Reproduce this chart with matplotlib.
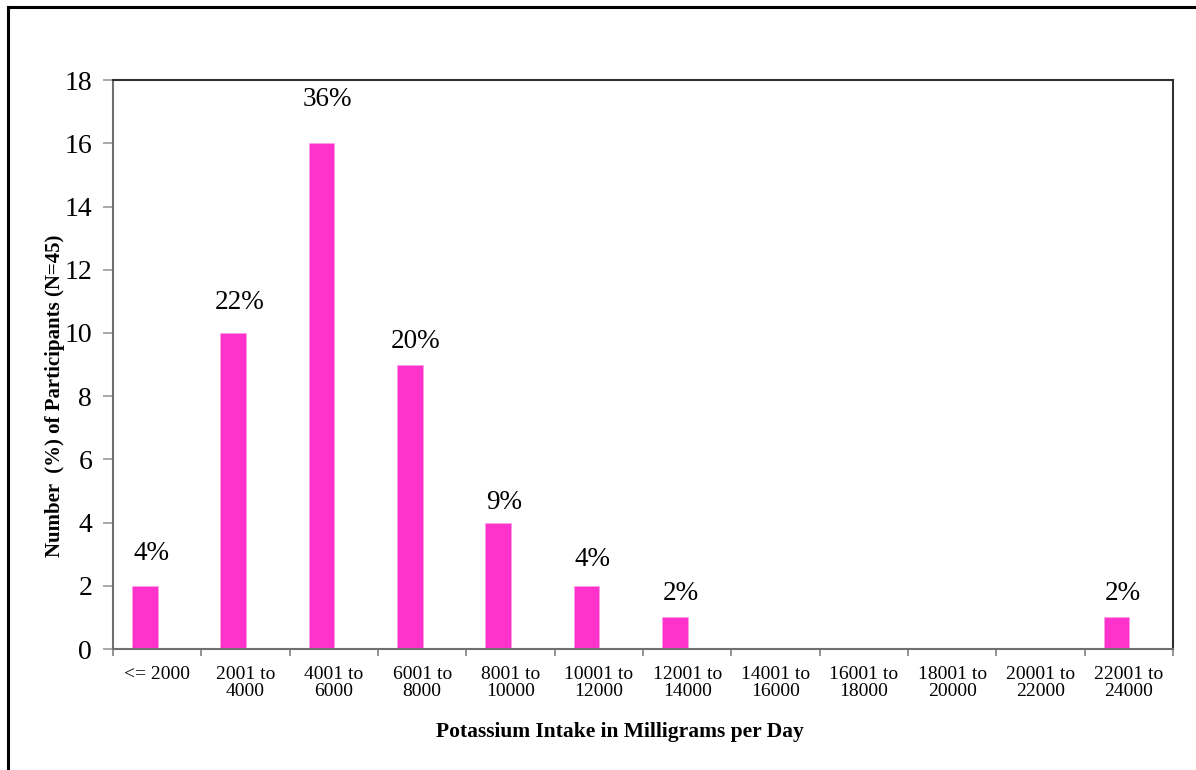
import numpy as np
import matplotlib.pyplot as plt
from matplotlib.lines import Line2D

# potassium intake bins and participant counts
categories = ['<= 2000', '2001 to\n4000', '4001 to\n6000', '6001 to\n8000',
              '8001 to\n10000', '10001 to\n12000', '12001 to\n14000',
              '14001 to\n16000', '16001 to\n18000', '18001 to\n20000',
              '20001 to\n22000', '22001 to\n24000']
counts = [2, 10, 16, 9, 4, 2, 1, 0, 0, 0, 0, 1]
pct_labels = ['4%', '22%', '36%', '20%', '9%', '4%', '2%', '', '', '', '', '2%']
# how far above each bar its label sits (data units)
label_lift = [1.04, 0.98, 1.37, 0.72, 0.65, 0.82, 0.77, 0, 0, 0, 0, 0.77]

plt.rcParams['font.family'] = ['Liberation Serif', 'DejaVu Serif']

fig = plt.figure(figsize=(11.96, 7.7), dpi=100)
ax = fig.add_axes([0.0945, 0.157, 0.8863, 0.739])

x = np.arange(len(categories))
ax.bar(x - 0.14, counts, width=0.29, color='#ff33cc', edgecolor='#ff9be6', linewidth=0.6)

for xi, c, lab, lift in zip(x, counts, pct_labels, label_lift):
    if lab:
        ax.text(xi - 0.07, c + lift, lab, ha='center', va='center', fontsize=19.5)

ax.set_xlim(-0.5, len(categories) - 0.5)
ax.set_ylim(0, 18)
ax.set_yticks(range(0, 19, 2))
ax.set_xticks(x)
ax.set_xticklabels(categories, fontsize=14, linespacing=1.0)
ax.set_xticks(np.arange(-0.5, len(categories), 1), minor=True)
ax.tick_params(axis='x', which='major', length=0, pad=12)
ax.tick_params(axis='x', which='minor', length=5, color='#808080', width=1.2)
ax.tick_params(axis='y', length=7, color='#999999', width=1.2, labelsize=20, pad=8)

for s in ['left', 'bottom']:
    ax.spines[s].set_color('#707070')
    ax.spines[s].set_linewidth(1.5)
for s in ['top', 'right']:
    ax.spines[s].set_color('#303030')
    ax.spines[s].set_linewidth(1.5)

ax.set_xlabel('Potassium Intake in Milligrams per Day', fontsize=15.5,
              fontweight='bold')
ax.set_ylabel('Number  (%) of Participants (N=45)', fontsize=15,
              fontweight='bold')
ax.xaxis.set_label_coords(0.478, -0.128)
ax.yaxis.set_label_coords(-0.045, 0.446)

# outer frame on left and top
fig.add_artist(Line2D([8 / 1196, 8 / 1196], [0, 1 - 7 / 770], color='black', lw=2.2,
                      transform=fig.transFigure))
fig.add_artist(Line2D([8 / 1196, 1], [1 - 7 / 770, 1 - 7 / 770], color='black', lw=2.2,
                      transform=fig.transFigure))

fig.savefig('out.png', dpi=100)
